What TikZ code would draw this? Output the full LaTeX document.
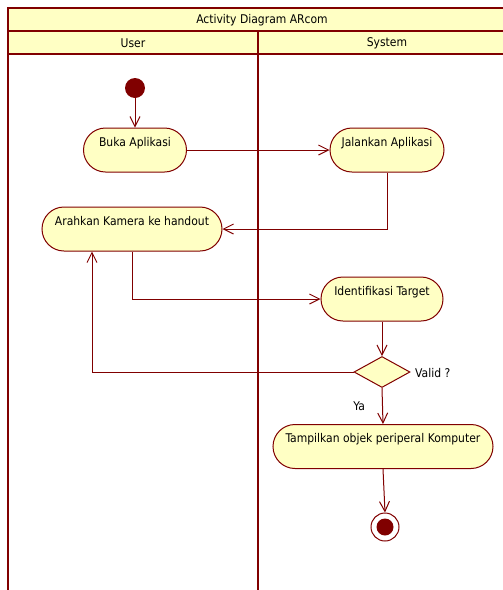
\documentclass[tikz,border=0pt]{standalone}
\usepackage{fontspec}
\setmainfont{DejaVu Sans Condensed}
\usetikzlibrary{shapes.misc,shapes.geometric,arrows.meta,positioning}
\definecolor{umlred}{HTML}{800000}
\definecolor{umlfill}{HTML}{FFFFC4}
\tikzset{
  lane/.style={draw=umlred, line width=2.8pt},
  act/.style={rounded rectangle, draw=umlred, fill=umlfill, line width=1pt,
    inner xsep=0pt, inner ysep=4pt, text height=14pt, text depth=22pt,
    font=\fontsize{12}{14}\selectfont},
  decision/.style={diamond, draw=umlred, fill=umlfill, line width=1pt,
    minimum width=56pt, minimum height=31pt, inner sep=0pt, aspect=1.8},
  flow/.style={draw=umlred, line width=1pt, -{Straight Barb[length=10pt,width=10pt]}},
  lbl/.style={font=\fontsize{12}{14}\selectfont, inner sep=0pt},
}
\begin{document}
\begin{tikzpicture}[x=1pt, y=-1pt]
\useasboundingbox (0,0) rectangle (503,590);
\clip (0,0) rectangle (503,590);
% swimlane frame
\fill[umlfill] (8,8) rectangle (520,54);
\draw[lane] (520,8) -- (8,8) -- (8,595);
\draw[lane] (8,31) -- (520,31);
\draw[lane] (8,54) -- (520,54);
\draw[lane] (258,31) -- (258,595);
\node[lbl] (title) at (262,20) {Activity Diagram ARcom};
\node[lbl] (user) at (133,43) {User};
\node[lbl] (system) at (387,43) {System};
% activities
\node[circle, fill=umlred, minimum size=20pt, inner sep=0pt] (start) at (135,88) {};
\node[act, minimum width=103pt] (buka) at (135,150) {Buka Aplikasi};
\node[act, minimum width=114pt] (jalan) at (387,150) {Jalankan Aplikasi};
\node[act, minimum width=180pt] (arah) at (132,229) {Arahkan Kamera ke handout};
\node[act, minimum width=122pt] (ident) at (382,299) {Identifikasi Target};
\node[decision] (valid) at (382,372) {};
\node[lbl, anchor=west] (validlbl) at (415,373) {Valid ?};
\node[act, minimum width=220pt] (tampil) at (383,446.5) {Tampilkan objek periperal Komputer};
\node[circle, draw=umlred, fill=white, line width=1pt, minimum size=28pt, inner sep=0pt] (end) at (385,527) {};
\node[circle, fill=umlred, minimum size=17pt, inner sep=0pt] (endin) at (end.center) {};
% control flows
\draw[flow] (start) -- (buka);
\draw[flow] (buka.east) -- (jalan.west);
\draw[flow] (jalan.south) |- (arah.east);
\draw[flow] (arah.south) |- (ident.west);
\draw[flow] (ident.south) -- (valid.north);
\draw[flow] (valid.west) -| ([xshift=-40pt]arah.south);
\draw[flow] (valid.south) -- node[lbl, pos=0.5, left=17pt] (ya) {Ya} (tampil.north);
\draw[flow] (tampil.south) -- (end.north);
\end{tikzpicture}
\end{document}
